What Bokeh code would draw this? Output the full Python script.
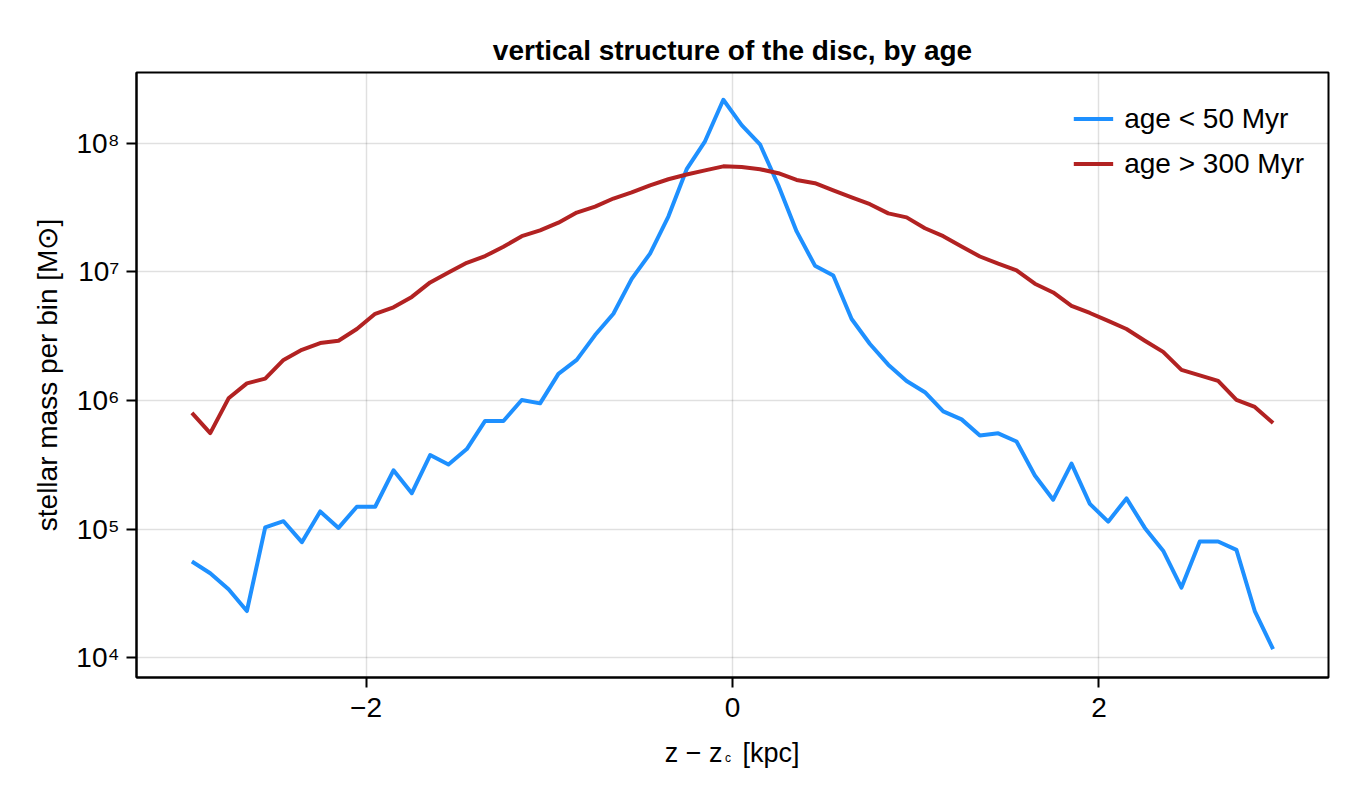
from bokeh.plotting import figure
from bokeh.layouts import column
from bokeh.models import (FixedTicker, CustomJSTickFormatter, Legend, LegendItem,
                          Range1d, ColumnDataSource)
from bokeh.core.properties import value
from bokeh.embed import file_html
from bokeh.resources import INLINE

z_centers = [-2.95, -2.85, -2.75, -2.65, -2.55, -2.45, -2.35, -2.25, -2.15, -2.05,
             -1.95, -1.85, -1.75, -1.65, -1.55, -1.45, -1.35, -1.25, -1.15, -1.05,
             -0.95, -0.85, -0.75, -0.65, -0.55, -0.45, -0.35, -0.25, -0.15, -0.05,
             0.05, 0.15, 0.25, 0.35, 0.45, 0.55, 0.65, 0.75, 0.85, 0.95,
             1.05, 1.15, 1.25, 1.35, 1.45, 1.55, 1.65, 1.75, 1.85, 1.95,
             2.05, 2.15, 2.25, 2.35, 2.45, 2.55, 2.65, 2.75, 2.85, 2.95]

young_mass = [5.58e4, 4.53e4, 3.40e4, 2.30e4, 1.03e5, 1.15e5, 7.9e4, 1.37e5, 1.02e5, 1.49e5,
              1.49e5, 2.86e5, 1.90e5, 3.76e5, 3.18e5, 4.19e5, 6.93e5, 6.93e5, 1.01e6, 9.5e5,
              1.61e6, 2.07e6, 3.23e6, 4.73e6, 8.85e6, 1.39e7, 2.70e7, 6.31e7, 1.04e8, 2.19e8,
              1.39e8, 9.86e7, 4.73e7, 2.07e7, 1.12e7, 9.38e6, 4.31e6, 2.75e6, 1.90e6, 1.42e6,
              1.16e6, 8.24e5, 7.13e5, 5.35e5, 5.55e5, 4.80e5, 2.61e5, 1.69e5, 3.23e5, 1.57e5,
              1.14e5, 1.73e5, 1.02e5, 6.78e4, 3.50e4, 8.0e4, 8.0e4, 6.88e4, 2.30e4, 1.16e4]

old_mass = [8.0e5, 5.58e5, 1.04e6, 1.36e6, 1.48e6, 2.07e6, 2.48e6, 2.80e6, 2.92e6, 3.60e6,
            4.73e6, 5.31e6, 6.40e6, 8.30e6, 9.93e6, 1.18e7, 1.33e7, 1.57e7, 1.90e7, 2.11e7,
            2.42e7, 2.90e7, 3.23e7, 3.73e7, 4.16e7, 4.73e7, 5.27e7, 5.74e7, 6.18e7, 6.64e7,
            6.55e7, 6.31e7, 5.87e7, 5.20e7, 4.91e7, 4.31e7, 3.81e7, 3.37e7, 2.86e7, 2.66e7,
            2.19e7, 1.90e7, 1.58e7, 1.32e7, 1.16e7, 1.03e7, 8.11e6, 6.93e6, 5.46e6, 4.80e6,
            4.16e6, 3.60e6, 2.92e6, 2.39e6, 1.73e6, 1.57e6, 1.42e6, 1.01e6, 8.91e5, 6.68e5]

series_labels = ["age < 50 Myr", "age > 300 Myr"]
series_colors = ["#1E90FF", "#B22222"]
x_ticks = [-2, 0, 2]
y_ticks = [1e4, 1e5, 1e6, 1e7, 1e8]
title_text = "vertical structure of the disc, by age"
y_label_text = "stellar mass per bin [M\u2299]"
x_label_parts = ["z \u2212 z", "c", "[kpc]"]

FONT = "Liberation Sans"

p = figure(width=1344, height=730, output_backend="svg", toolbar_location=None,
           y_axis_type="log",
           x_range=Range1d(-3.2524, 3.2524), y_range=Range1d(10**3.8444, 10**8.5525),
           min_border_left=136, min_border_right=16, min_border_top=72, min_border_bottom=53)

p.background_fill_color = "white"
p.border_fill_color = "white"
p.outline_line_color = "black"
p.outline_line_width = 2

p.title.text = title_text
p.title.align = "center"
p.title.text_font = FONT
p.title.text_font_size = "28px"
p.title.text_font_style = "bold"
p.title.text_color = "black"
p.title.standoff = 14

src = ColumnDataSource(dict(z=z_centers, young=young_mass, old=old_mass))
r1 = p.line("z", "young", source=src, line_color=series_colors[0], line_width=4, line_join="round")
r2 = p.line("z", "old", source=src, line_color=series_colors[1], line_width=4, line_join="round")

legend = Legend(items=[LegendItem(label=series_labels[0], renderers=[r1]),
                       LegendItem(label=series_labels[1], renderers=[r2])],
                location="top_right", margin=24, padding=0, spacing=0,
                glyph_width=40, glyph_height=45, label_height=45, label_standoff=11,
                label_text_font=FONT, label_text_font_size="28px", label_text_color="black",
                border_line_color=None, background_fill_alpha=0)
p.add_layout(legend)

for ax in (p.xaxis[0], p.yaxis[0]):
    ax.axis_line_width = 2
    ax.axis_line_color = "black"
    ax.major_tick_line_width = 2
    ax.major_tick_line_color = "black"
    ax.major_tick_out = 10
    ax.major_tick_in = 0
    ax.minor_tick_line_color = None
    ax.major_label_text_font = FONT
    ax.major_label_text_font_size = "28px"
    ax.major_label_text_color = "black"

p.xaxis[0].ticker = FixedTicker(ticks=x_ticks)
p.xaxis[0].formatter = CustomJSTickFormatter(code="return tick < 0 ? '\\u2212' + Math.abs(tick) : String(tick);")
p.xaxis[0].major_label_standoff = 10

p.yaxis[0].ticker = FixedTicker(ticks=y_ticks, minor_ticks=[])
p.yaxis[0].formatter = CustomJSTickFormatter(code="""
const e = Math.round(Math.log10(tick));
const sup = ['\\u2070','\\u00b9','\\u00b2','\\u00b3','\\u2074','\\u2075','\\u2076','\\u2077','\\u2078','\\u2079'];
return '10' + String(e).split('').map(d => sup[parseInt(d)]).join('');
""")
p.yaxis[0].major_label_standoff = 7
p.yaxis[0].axis_label = y_label_text
p.yaxis[0].axis_label_text_font = FONT
p.yaxis[0].axis_label_text_font_size = "28px"
p.yaxis[0].axis_label_text_font_style = "normal"
p.yaxis[0].axis_label_text_color = "black"
p.yaxis[0].axis_label_standoff = 10

for g in (p.xgrid[0], p.ygrid[0]):
    g.grid_line_color = "black"
    g.grid_line_alpha = 0.12
    g.grid_line_width = 1.5
p.xgrid[0].ticker = FixedTicker(ticks=x_ticks)
p.ygrid[0].ticker = FixedTicker(ticks=y_ticks, minor_ticks=[])

# strip below the plot carrying the x-axis label (with a subscript c).
# Its frame lines up with the main frame; x is in page pixels, y downward from its top.
lab = figure(width=1344, height=54, output_backend="svg", toolbar_location=None,
             x_range=Range1d(136, 1328), y_range=Range1d(54, 0),
             x_axis_location=None, y_axis_location=None,
             min_border=0, min_border_left=0, min_border_right=0,
             min_border_top=0, min_border_bottom=0)
lab.grid.visible = False
lab.outline_line_color = None
lab.background_fill_color = "white"
lab.border_fill_color = "white"

lab.text(x=[722], y=[22], text=[x_label_parts[0]], text_font=value(FONT), text_font_size="27px",
         text_align="right", text_baseline="alphabetic", text_color="black")
lab.text(x=[724.5], y=[27], text=[x_label_parts[1]], text_font=value(FONT), text_font_size="12px",
         text_align="left", text_baseline="alphabetic", text_color="black")
lab.text(x=[742], y=[22], text=[x_label_parts[2]], text_font=value(FONT), text_font_size="27px",
         text_align="left", text_baseline="alphabetic", text_color="black")

layout = column(p, lab, spacing=0)
open("out.html", "w").write(file_html(layout, INLINE))
